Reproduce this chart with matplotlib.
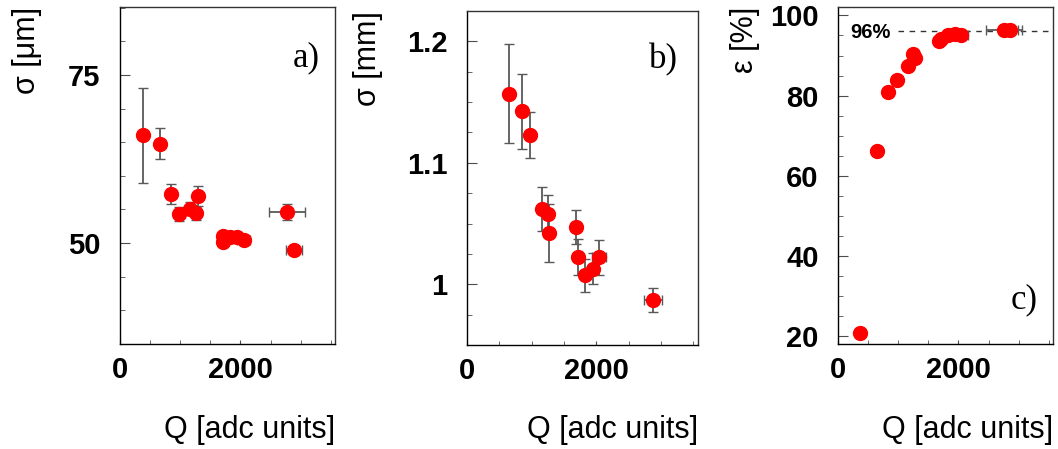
import numpy as np
import matplotlib.pyplot as plt
from matplotlib.ticker import MultipleLocator

plt.rcParams['font.family'] = ['Liberation Sans', 'DejaVu Sans']

# panel a) - spatial resolution in um
a_q = [378, 661, 850, 988, 1167, 1267, 1289, 1706, 1711, 1833, 1944, 2056, 2778, 2889]
a_sig = [66.0, 64.8, 57.3, 54.3, 55.1, 54.4, 57.0, 51.1, 50.2, 50.9, 50.9, 50.5, 54.6, 48.9]
a_sig_err = [7.0, 2.3, 1.5, 1.0, 1.0, 1.0, 1.5, 0.3, 0.3, 0.3, 0.3, 0.3, 1.2, 0.3]
a_q_err = [0, 0, 0, 0, 0, 0, 0, 0, 0, 0, 0, 110, 300, 128]

# panel b) - resolution in mm
b_q = [645, 846, 980, 1166, 1248, 1274, 1692, 1712, 1825, 1944, 2037, 2877]
b_sig = [1.157, 1.1425, 1.1228, 1.0622, 1.0576, 1.0425, 1.0475, 1.0225, 1.0074, 1.0129, 1.0222, 0.9871]
b_sig_err = [0.041, 0.031, 0.019, 0.018, 0.016, 0.024, 0.014, 0.0145, 0.0135, 0.013, 0.0146, 0.0097]
b_q_err = [0, 0, 0, 0, 0, 0, 0, 0, 0, 0, 110, 135]

# panel c) - efficiency
c_q = [370, 650, 837, 980, 1155, 1249, 1282, 1678, 1706, 1832, 1944, 2040, 2750, 2861]
c_eff = [20.9, 66.1, 80.9, 83.9, 87.5, 90.5, 89.4, 93.6, 94.2, 95.1, 95.4, 95.1, 96.4, 96.4]
c_q_err = [0, 0, 0, 0, 0, 0, 0, 0, 0, 0, 0, 110, 300, 128]
plateau = 96

QMAX = 3570
TICKFS = 21
LABFS = 22

fig = plt.figure(figsize=(10.58, 4.49), dpi=100)
axA = fig.add_axes([0.1134, 0.2339, 0.2032, 0.7506])
axB = fig.add_axes([0.4414, 0.2316, 0.2183, 0.7439])
axC = fig.add_axes([0.7921, 0.2339, 0.2032, 0.7506])

def points(ax, x, y, yerr, xerr):
	yerr = None if yerr is None else np.array(yerr)
	eb = ax.errorbar(x, y, yerr=yerr, xerr=np.array(xerr), fmt="o", color="red",
		ms=10, ecolor="0.35", elinewidth=1.3, capsize=3.5, capthick=1.0, zorder=3)
	for cap in eb[1]:
		cap.set_color("black")

def style(ax, ylo, yhi, ymaj, ymin, ylabel, tag, tagpos):
	ax.set_xlim(0, QMAX)
	ax.set_ylim(ylo, yhi)
	ax.xaxis.set_major_locator(MultipleLocator(2000))
	ax.xaxis.set_minor_locator(MultipleLocator(500))
	ax.yaxis.set_major_locator(MultipleLocator(ymaj))
	ax.yaxis.set_minor_locator(MultipleLocator(ymin))
	ax.tick_params(axis="both", which="both", direction="in", top=False, right=False, color="0.3")
	ax.tick_params(axis="y", which="major", length=7.2, pad=14)
	ax.tick_params(axis="y", which="minor", length=3.6)
	ax.tick_params(axis="x", which="both", length=3, pad=8.5)
	for lab in ax.get_xticklabels() + ax.get_yticklabels():
		lab.set_fontsize(TICKFS)
		lab.set_fontweight("bold")
	for s in ax.spines.values():
		s.set_linewidth(1.0)
		s.set_color("0.2")
	ax.spines["left"].set_color("black")
	ax.spines["bottom"].set_color("black")
	ax.set_xlabel("Q [adc units]", fontsize=LABFS, ha="right")
	ax.xaxis.set_label_coords(1.0, -0.21)
	ax.set_ylabel(ylabel, fontsize=LABFS, ha="right")
	ax.yaxis.set_label_coords(-0.365, 1.0)
	ax.text(tagpos[0], tagpos[1], tag, transform=ax.transAxes, fontsize=25,
		family="Liberation Serif", ha="right", va="center")

points(axA, a_q, a_sig, a_sig_err, a_q_err)
style(axA, 35, 85.1, 25, 5, "σ [μm]", "a)", (0.93, 0.85))

points(axB, b_q, b_sig, b_sig_err, b_q_err)
style(axB, 0.95, 1.225, 0.1, 0.025, "σ [mm]", "b)", (0.915, 0.855))
axB.set_yticklabels(["", "1", "1.1", "1.2", ""][:len(axB.get_yticks())])

points(axC, c_q, c_eff, None, c_q_err)
style(axC, 18.1, 102.1, 20, 5, "ε [%]", "c)", (0.93, 0.13))
axC.hlines(plateau, 1000, QMAX, colors="0.2", linestyles=(0, (4, 4)), linewidth=1.0, zorder=2)
axC.text(210, 95.7, "96%", fontsize=14.5, fontweight="bold", ha="left", va="center")

fig.savefig("out.png", dpi=100)
